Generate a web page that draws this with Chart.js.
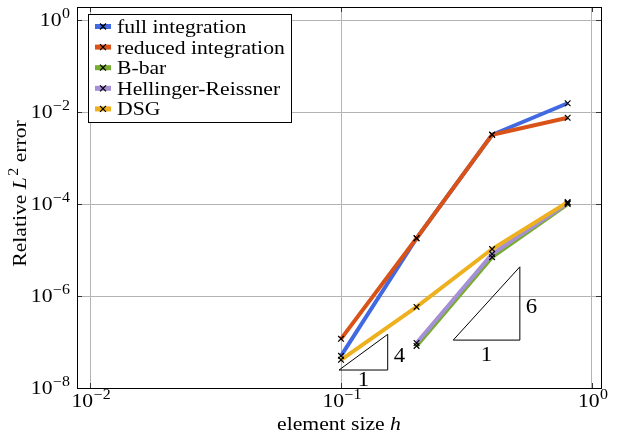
<!DOCTYPE html>
<html>
<head>
<meta charset="utf-8">
<script src="https://cdn.jsdelivr.net/npm/chart.js@4/dist/chart.umd.min.js"></script>
<style>
  html, body { margin: 0; padding: 0; background: #fff; }
  #wrap { width: 617px; height: 439px; }
</style>
</head>
<body>
<div id="wrap"><canvas id="c" width="617" height="439"></canvas></div>
<script>
// element sizes and relative L2 errors per formulation
const h = [0.1, 0.2, 0.4, 0.8];
const fullIntegration    = [5.0e-8, 1.8e-5, 3.2e-3, 1.55e-2];
const reducedIntegration = [1.17e-7, 1.8e-5, 3.2e-3, 7.5e-3];
const bBar               = [null, 8.2e-8, 7.0e-6, 1.0e-4];
const hellingerReissner  = [null, 9.5e-8, 8.2e-6, 1.05e-4];
const dsg                = [4.1e-8, 5.8e-7, 1.05e-5, 1.1e-4];

const seriesNames  = ['full integration', 'reduced integration', 'B-bar', 'Hellinger-Reissner', 'DSG'];
const seriesValues = [fullIntegration, reducedIntegration, bBar, hellingerReissner, dsg];
const seriesColors = ['#4169e1', '#d95319', '#77ac30', '#a590d6', '#edb120'];

// axis decades
const xTicks = [1e-2, 1e-1, 1e0];
const xTickExp = ['−2', '−1', '0'];
const yTicks = [1e0, 1e-2, 1e-4, 1e-6, 1e-8];
const yTickExp = ['0', '−2', '−4', '−6', '−8'];

// slope triangles: left h, right h, base error, slope
const triLeft  = [0.0982, 0.280];
const triRight = [0.1535, 0.516];
const triBase  = [2.46e-8, 1.10e-7];
const triSlope = [4, 6];

const FONT = '"Liberation Serif", "DejaVu Serif", serif';
const STRETCH = 1.14;   // widen the serif face a little

function pts(xs, ys) {
  const out = [];
  xs.forEach((x, i) => { if (ys[i] !== null) out.push({x: x, y: ys[i]}); });
  return out;
}

const datasets = [];
// lines: last series drawn on top
seriesValues.forEach((vals, i) => {
  datasets.push({
    label: seriesNames[i],
    data: pts(h, vals),
    borderColor: seriesColors[i],
    backgroundColor: seriesColors[i],
    borderWidth: 4,
    pointRadius: 0,
    fill: false,
    tension: 0,
    order: 10 - i
  });
});
// black x markers above all lines
seriesValues.forEach((vals, i) => {
  datasets.push({
    label: seriesNames[i] + ' markers',
    data: pts(h, vals),
    showLine: false,
    pointStyle: 'crossRot',
    pointRadius: 4,
    pointBorderColor: '#000',
    pointBorderWidth: 1.2,
    order: 0
  });
});
// slope triangles
triLeft.forEach((x0, k) => {
  const x1 = triRight[k];
  const y0 = triBase[k];
  const y1 = y0 * Math.pow(x1 / x0, triSlope[k]);
  datasets.push({
    label: 'slope ' + triSlope[k],
    data: [{x: x0, y: y0}, {x: x1, y: y0}, {x: x1, y: y1}, {x: x0, y: y0}],
    borderColor: '#000',
    borderWidth: 1,
    pointRadius: 0,
    fill: false,
    tension: 0,
    order: 0
  });
});

// runs: [{t, size, italic, dy}] laid out left to right, widened by STRETCH
function runsWidth(ctx, runs) {
  let w = 0;
  runs.forEach(r => {
    ctx.font = (r.italic ? 'italic ' : '') + r.size + 'px ' + FONT;
    w += ctx.measureText(r.t).width * STRETCH + (r.gap || 0);
  });
  return w;
}
function drawRuns(ctx, runs, x, y, align) {
  const w = runsWidth(ctx, runs);
  let left = x;
  if (align === 'center') left = x - w / 2;
  else if (align === 'right') left = x - w;
  ctx.save();
  ctx.fillStyle = '#000';
  ctx.textAlign = 'left';
  ctx.textBaseline = 'alphabetic';
  runs.forEach(r => {
    ctx.font = (r.italic ? 'italic ' : '') + r.size + 'px ' + FONT;
    const rw = ctx.measureText(r.t).width * STRETCH;
    ctx.save();
    ctx.translate(left + (r.gap || 0), y + (r.dy || 0));
    ctx.scale(STRETCH, 1);
    ctx.fillText(r.t, 0, 0);
    ctx.restore();
    left += rw + (r.gap || 0);
  });
  ctx.restore();
}
function powRuns(exp) {
  return [{t: '10', size: 19}, {t: exp, size: 14, dy: -8, gap: 0.5}];
}

const decorations = {
  id: 'decorations',
  afterDatasetsDraw(chart) {
    const ctx = chart.ctx;
    const a = chart.chartArea;
    const xs = chart.scales.x, ys = chart.scales.y;
    ctx.save();
    // inward tick marks on all four sides
    ctx.strokeStyle = '#333';
    ctx.lineWidth = 1;
    ctx.beginPath();
    xTicks.forEach(v => {
      const px = Math.round(xs.getPixelForValue(v)) + 0.5;
      ctx.moveTo(px, a.bottom); ctx.lineTo(px, a.bottom - 5);
      ctx.moveTo(px, a.top); ctx.lineTo(px, a.top + 5);
    });
    yTicks.forEach(v => {
      const py = Math.round(ys.getPixelForValue(v)) + 0.5;
      ctx.moveTo(a.left, py); ctx.lineTo(a.left + 5, py);
      ctx.moveTo(a.right, py); ctx.lineTo(a.right - 5, py);
    });
    ctx.stroke();
    // frame
    ctx.strokeStyle = '#000';
    ctx.strokeRect(Math.round(a.left) + 0.5, Math.round(a.top) + 0.5,
                   Math.round(a.right - a.left), Math.round(a.bottom - a.top));

    // tick labels
    xTicks.forEach((v, i) => drawRuns(ctx, powRuns(xTickExp[i]), xs.getPixelForValue(v) + 1, a.bottom + 19, 'center'));
    yTicks.forEach((v, i) => drawRuns(ctx, powRuns(yTickExp[i]), a.left - 7, ys.getPixelForValue(v) + 6, 'right'));

    // axis titles
    drawRuns(ctx, [{t: 'element size ', size: 19}, {t: 'h', size: 19, italic: true}],
             (a.left + a.right) / 2, 430, 'center');

    ctx.save();
    ctx.translate(26, (a.top + a.bottom) / 2 - 4);
    ctx.rotate(-Math.PI / 2);
    drawRuns(ctx, [{t: 'Relative ', size: 19}, {t: 'L', size: 19, italic: true},
                   {t: '2', size: 14, dy: -8, gap: 1.5}, {t: ' error', size: 19}], 0, 0, 'center');
    ctx.restore();

    // slope labels
    const belowOffset = [16, 21];
    triLeft.forEach((x0, k) => {
      const x1 = triRight[k];
      const y0 = triBase[k];
      const y1 = y0 * Math.pow(x1 / x0, triSlope[k]);
      const pxl = xs.getPixelForValue(x0), pxr = xs.getPixelForValue(x1);
      const pyb = ys.getPixelForValue(y0), pyt = ys.getPixelForValue(y1);
      drawRuns(ctx, [{t: '1', size: 20}], (pxl + pxr) / 2, pyb + belowOffset[k], 'center');
      drawRuns(ctx, [{t: String(triSlope[k]), size: 20}], pxr + 6, (pyb + pyt) / 2 + 10, 'left');
    });

    // legend
    const bx = 88.5, by = 14.5, bw = 203, bh = 108;
    ctx.fillStyle = '#fff';
    ctx.fillRect(bx, by, bw, bh);
    ctx.strokeStyle = '#000';
    ctx.lineWidth = 1;
    ctx.strokeRect(bx, by, bw, bh);
    seriesNames.forEach((name, i) => {
      const ry = 26.5 + i * 20.6;
      ctx.strokeStyle = seriesColors[i];
      ctx.lineWidth = 5;
      ctx.beginPath();
      ctx.moveTo(95, ry); ctx.lineTo(111, ry);
      ctx.stroke();
      ctx.strokeStyle = '#000';
      ctx.lineWidth = 1.2;
      ctx.beginPath();
      ctx.moveTo(100, ry - 3); ctx.lineTo(106, ry + 3);
      ctx.moveTo(100, ry + 3); ctx.lineTo(106, ry - 3);
      ctx.stroke();
      drawRuns(ctx, [{t: name, size: 19}], 117, ry + 6.5, 'left');
    });
    ctx.restore();
  }
};

new Chart(document.getElementById('c'), {
  type: 'line',
  data: { datasets: datasets },
  options: {
    responsive: false,
    animation: false,
    devicePixelRatio: 1,
    layout: { padding: { left: 77, right: 16, top: 7, bottom: 51 } },
    plugins: { legend: { display: false }, tooltip: { enabled: false } },
    scales: {
      x: {
        type: 'logarithmic',
        min: Math.pow(10, -2.052),
        max: Math.pow(10, 0.036),
        afterBuildTicks(scale) { scale.ticks = xTicks.map(v => ({value: v})); },
        ticks: { display: false },
        grid: { color: '#b4b4b4', lineWidth: 1, drawTicks: false },
        border: { display: false }
      },
      y: {
        type: 'logarithmic',
        min: 1e-8,
        max: Math.pow(10, 0.283),
        afterBuildTicks(scale) { scale.ticks = yTicks.map(v => ({value: v})); },
        ticks: { display: false },
        grid: { color: '#b4b4b4', lineWidth: 1, drawTicks: false },
        border: { display: false }
      }
    }
  },
  plugins: [decorations]
});
</script>
</body>
</html>
